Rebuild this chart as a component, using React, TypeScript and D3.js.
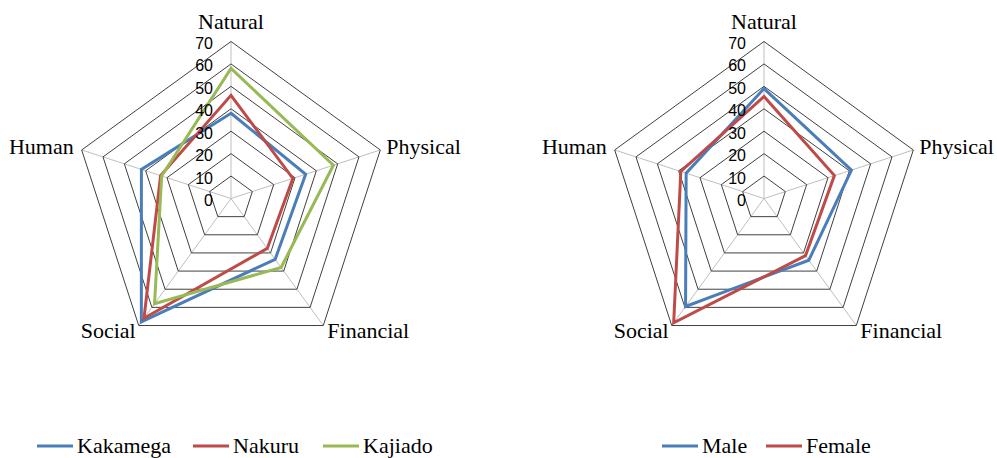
import React from 'react';
import * as d3 from 'd3';

const categories = ['Natural', 'Physical', 'Financial', 'Social', 'Human'];
const ticks = [0, 10, 20, 30, 40, 50, 60, 70];

const kakamega = [38, 35, 33.5, 68, 42];
const nakuru = [46, 29, 27.5, 66, 33];
const kajiado = [58, 48, 38, 58, 32.5];
const male = [49, 41, 34, 59.5, 36.5];
const female = [45.5, 33, 31.5, 68.5, 39];

const BLUE = '#4A7EBB';
const RED = '#BE4B48';
const GREEN = '#98B954';

const SERIF = "'Liberation Serif', 'Times New Roman', Times, 'DejaVu Serif', serif";
const SANS = "'Liberation Sans', Arial, sans-serif";

type Series = { name: string; values: number[]; color: string };

const leftSeries: Series[] = [
  { name: 'Kakamega', values: kakamega, color: BLUE },
  { name: 'Nakuru', values: nakuru, color: RED },
  { name: 'Kajiado', values: kajiado, color: GREEN },
];
const rightSeries: Series[] = [
  { name: 'Male', values: male, color: BLUE },
  { name: 'Female', values: female, color: RED },
];

const R = 157;
const r = d3.scaleLinear().domain([0, 70]).range([0, R]);
const ang = (i: number) => (i * 2 * Math.PI) / categories.length;

function pt(i: number, v: number): [number, number] {
  const a = ang(i);
  return [r(v) * Math.sin(a), -r(v) * Math.cos(a)];
}

const labelPos: { dx: number; dy: number; anchor: string }[] = [
  { dx: 0, dy: -13, anchor: 'middle' },
  { dx: 6, dy: 4, anchor: 'start' },
  { dx: 4, dy: 12, anchor: 'start' },
  { dx: -3, dy: 12, anchor: 'end' },
  { dx: -8, dy: 4, anchor: 'end' },
];

function Radar({ cx, cy, series }: { cx: number; cy: number; series: Series[] }) {
  const line = d3.line<[number, number]>().curve(d3.curveLinearClosed);
  return (
    <g transform={`translate(${cx},${cy})`}>
      {categories.map((_, i) => {
        const [x, y] = pt(i, 70);
        return <line key={'s' + i} x1={0} y1={0} x2={x} y2={y} stroke="#BFBFBF" strokeWidth={1} />;
      })}
      {ticks.slice(1).map((t) => (
        <path
          key={'r' + t}
          d={line(categories.map((_, i) => pt(i, t))) || ''}
          fill="none"
          stroke="#404040"
          strokeWidth={1}
        />
      ))}
      {series.map((s) => (
        <path
          key={s.name}
          d={line(s.values.map((v, i) => pt(i, v))) || ''}
          fill="none"
          stroke={s.color}
          strokeWidth={3}
          strokeLinejoin="miter"
        />
      ))}
      {ticks.map((t) => (
        <text
          key={'t' + t}
          x={-18}
          y={-r(t) + 2}
          textAnchor="end"
          dominantBaseline="central"
          style={{ fontFamily: SANS, fontSize: 16 }}
          fill="#000"
        >
          {t}
        </text>
      ))}
      {categories.map((c, i) => {
        const [x, y] = pt(i, 70);
        const lp = labelPos[i];
        return (
          <text
            key={'c' + c}
            x={x + lp.dx}
            y={y + lp.dy}
            textAnchor={lp.anchor}
            style={{ fontFamily: SERIF, fontSize: 22 }}
            fill="#000"
          >
            {c}
          </text>
        );
      })}
    </g>
  );
}

function Legend({ x, y, series, gaps }: { x: number; y: number; series: Series[]; gaps: number[] }) {
  let cur = x;
  return (
    <g>
      {series.map((s, i) => {
        const x0 = cur;
        cur += gaps[i];
        return (
          <g key={s.name}>
            <line x1={x0} y1={y} x2={x0 + 36} y2={y} stroke={s.color} strokeWidth={3} />
            <text x={x0 + 40} y={y + 7} style={{ fontFamily: SERIF, fontSize: 22 }} fill="#000">
              {s.name}
            </text>
          </g>
        );
      })}
    </g>
  );
}

export default function App() {
  return (
    <svg
      width={997}
      height={458}
      style={{ position: 'absolute', left: 0, top: 0, background: '#fff' }}
    >
      <rect width={997} height={458} fill="#fff" />
      <Radar cx={231} cy={198.5} series={leftSeries} />
      <Radar cx={764} cy={198.5} series={rightSeries} />
      <Legend x={37} y={446} series={leftSeries} gaps={[156, 130, 0]} />
      <Legend x={662} y={446} series={rightSeries} gaps={[104, 0]} />
    </svg>
  );
}
